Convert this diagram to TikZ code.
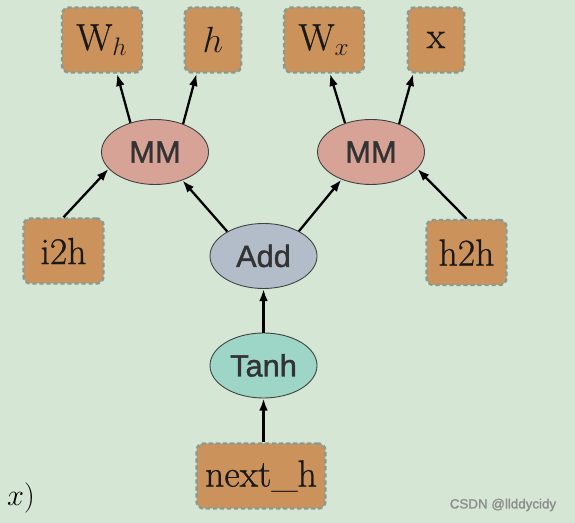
\documentclass[tikz,border=0pt]{standalone}
\usepackage{fontspec}
\usepackage{amsmath}
\usepackage{tikz}
\usetikzlibrary{shapes.geometric, positioning, arrows.meta}
\newfontfamily\opfont[FakeBold=1.3]{Liberation Sans}
\newfontfamily\boxfont[FakeBold=0.7]{Latin Modern Roman}

\definecolor{bggreen}{HTML}{D5E6D4}
\definecolor{boxfill}{HTML}{CC925C}
\definecolor{boxline}{HTML}{859C95}
\definecolor{mmfill}{HTML}{D6A396}
\definecolor{addfill}{HTML}{B3BCC9}
\definecolor{tanhfill}{HTML}{9DD5C6}

\begin{document}
\begin{tikzpicture}[
    x=1cm, y=1cm,
    tensor/.style={draw=boxline, fill=boxfill, dash pattern=on 2.4pt off 1.6pt, line width=1.4pt, rounded corners=4pt, minimum width=1.6cm, minimum height=1.3cm, inner xsep=0.17cm, align=center, text=black!90, font=\boxfont\fontsize{21.5}{25}\selectfont},
    narrow/.style={minimum width=1.13cm},
    op/.style={draw=black!75, line width=0.5pt, ellipse, minimum width=2.14cm, minimum height=1.3cm, inner sep=0pt, text=black!80, font=\opfont\fontsize{17.5}{20}\selectfont},
    flow/.style={line width=1.3pt, -{Latex[length=7pt, width=5pt]}}
]

    % ================= BACKGROUND =================
    \fill[bggreen] (0, 0) rectangle (11.5, 10.46);
    \useasboundingbox (0, 0) rectangle (11.5, 10.46);

    % ================= TENSORS =================
    \node[tensor] (WH)   at (2.04, 9.66) {W$_h$};
    \node[tensor, narrow] (H) at (4.26, 9.66) {$h$};
    \node[tensor] (WX)   at (6.48, 9.66) {W$_x$};
    \node[tensor, narrow] (X) at (8.72, 9.66) {x};
    \node[tensor] (I2H)  at (1.27, 5.44) {i2h};
    \node[tensor] (H2H)  at (9.33, 5.41) {h2h};
    \node[tensor] (NEXT) at (5.22, 0.94) {next\_h};

    % ================= OPERATIONS =================
    \node[op, fill=mmfill]   (MM1)  at (3.10, 7.42) {MM};
    \node[op, fill=mmfill]   (MM2)  at (7.42, 7.42) {MM};
    \node[op, fill=addfill]  (ADD)  at (5.27, 5.34) {Add};
    \node[op, fill=tanhfill] (TANH) at (5.27, 3.15) {Tanh};

    % ================= EDGES =================
    % next_h - Tanh - Add
    \draw[flow] (NEXT.north -| TANH.south) -- (TANH.south);
    \draw[flow] (TANH.north) -- (ADD.south);

    % Add - MM
    \draw[flow] (ADD.146) -- (MM1.-46);
    \draw[flow] (ADD.35) -- (MM2.-137);

    % i2h, h2h - MM
    \draw[flow] (I2H.north) -- (MM1.200);
    \draw[flow] (H2H.north) -- (MM2.-20);

    % MM - inputs
    \draw[flow] (MM1.130) -- (WH.-66);
    \draw[flow] (MM1.45) -- (H.-116);
    \draw[flow] (MM2.132) -- (WX.-80);
    \draw[flow] (MM2.45) -- (X.-124);

    % ================= TEXTS =================
    \node[anchor=west, font=\fontsize{16}{18}\selectfont] (TAIL) at (0.02, 0.5) {$x)$};
    \node[text=black!45, font=\opfont\fontsize{7.6}{9}\selectfont] (MARK) at (10.06, 0.36) {CSDN @llddycidy};

\end{tikzpicture}
\end{document}
